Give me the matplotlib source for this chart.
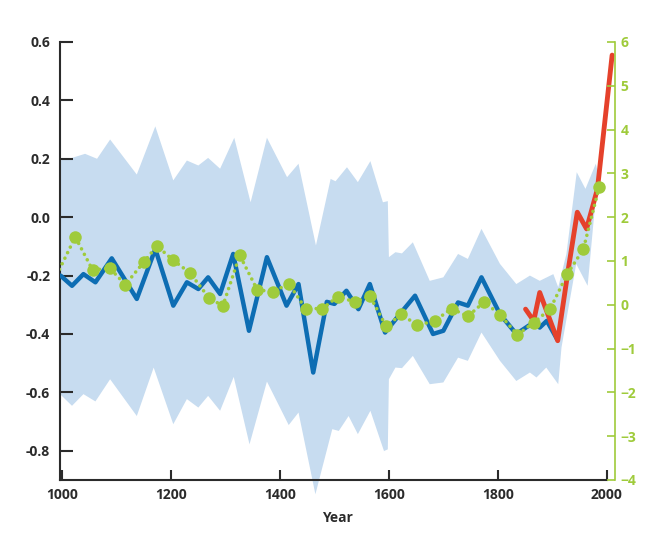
import numpy as np
import matplotlib
matplotlib.use('Agg')
import matplotlib.pyplot as plt

# reconstruction (left axis)
blue_years = [997, 1018, 1039, 1061, 1091, 1137, 1171, 1204, 1229, 1250, 1268, 1290,
              1314, 1343, 1376, 1412, 1434, 1461, 1486, 1500, 1522, 1544, 1565, 1593,
              1620, 1648, 1681, 1700, 1727, 1745, 1770, 1804, 1834, 1866, 1877, 1890, 1909]
blue_vals = [-0.20, -0.235, -0.195, -0.223, -0.141, -0.28, -0.109, -0.303, -0.223, -0.246,
             -0.206, -0.263, -0.126, -0.389, -0.137, -0.303, -0.229, -0.532, -0.29, -0.297,
             -0.252, -0.315, -0.229, -0.395, -0.332, -0.269, -0.40, -0.389, -0.292, -0.303,
             -0.206, -0.332, -0.40, -0.36, -0.378, -0.355, -0.418]

# instrumental (left axis)
red_years = [1851, 1866, 1877, 1910, 1930, 1946, 1963, 1983, 2010]
red_vals = [-0.315, -0.355, -0.258, -0.423, -0.172, 0.017, -0.04, 0.097, 0.555]

# uncertainty band (left axis)
band_up_years = [996, 1018, 1042, 1064, 1088, 1137, 1171, 1204, 1229, 1250, 1268, 1290,
                 1316, 1346, 1376, 1413, 1434, 1466, 1493, 1502, 1523, 1543, 1566, 1589,
                 1598, 1600, 1612, 1624, 1644, 1675, 1700, 1727, 1745, 1770, 1804, 1834,
                 1859, 1877, 1902, 1911, 1926, 1945, 1961, 1980, 1984]
band_up = [0.194, 0.203, 0.217, 0.20, 0.266, 0.146, 0.311, 0.126, 0.194, 0.177, 0.203, 0.166,
           0.272, 0.051, 0.272, 0.137, 0.183, -0.097, 0.131, 0.123, 0.171, 0.12, 0.192, 0.051,
           0.055, -0.137, -0.12, -0.124, -0.086, -0.218, -0.206, -0.126, -0.143, -0.04, -0.16,
           -0.229, -0.20, -0.218, -0.195, -0.24, -0.126, 0.154, 0.097, 0.183, 0.15]
band_lo_years = [996, 1018, 1039, 1061, 1088, 1137, 1168, 1204, 1229, 1250, 1268, 1290,
                 1315, 1344, 1376, 1416, 1434, 1465, 1496, 1508, 1526, 1543, 1566, 1591,
                 1598, 1600, 1612, 1624, 1644, 1675, 1700, 1727, 1745, 1770, 1804, 1834,
                 1859, 1871, 1889, 1911, 1917, 1944, 1965, 1984]
band_lo = [-0.606, -0.646, -0.606, -0.631, -0.555, -0.681, -0.515, -0.709, -0.623, -0.652,
           -0.612, -0.663, -0.547, -0.778, -0.563, -0.712, -0.669, -0.949, -0.726, -0.732,
           -0.681, -0.743, -0.663, -0.801, -0.795, -0.555, -0.515, -0.517, -0.475, -0.572,
           -0.566, -0.481, -0.492, -0.395, -0.492, -0.561, -0.532, -0.549, -0.515, -0.572,
           -0.446, -0.16, -0.235, 0.15]

# dotted series (right axis)
green_years = [980, 1024, 1056, 1087, 1116, 1150, 1174, 1204, 1235, 1269, 1295, 1326, 1358,
               1387, 1416, 1447, 1478, 1506, 1538, 1565, 1595, 1623, 1652, 1684, 1715, 1745,
               1775, 1804, 1836, 1866, 1896, 1928, 1957, 1986]
green_vals = [0.43, 1.548, 0.79, 0.84, 0.46, 0.977, 1.342, 1.016, 0.726, 0.164, -0.027, 1.13,
              0.347, 0.292, 0.484, -0.087, -0.087, 0.185, 0.064, 0.2, -0.491, -0.217, -0.468,
              -0.37, -0.087, -0.263, 0.064, -0.224, -0.685, -0.405, -0.1, 0.712, 1.265, 2.68]

left_ticks = [-0.8, -0.6, -0.4, -0.2, 0.0, 0.2, 0.4, 0.6]
right_ticks = [-4, -3, -2, -1, 0, 1, 2, 3, 4, 5, 6]
x_ticks = [1000, 1200, 1400, 1600, 1800, 2000]

dark = '#2b2b2b'
green = '#9fcb3b'
plt.rcParams['font.family'] = ['Open Sans', 'DejaVu Sans']

fig = plt.figure(figsize=(6.64, 5.41), dpi=100)
ax = fig.add_axes([0.0904, 0.1128, 0.8356, 0.8096])

poly_x = np.concatenate([band_up_years, band_lo_years[::-1]])
poly_y = np.concatenate([band_up, band_lo[::-1]])
ax.fill(poly_x, poly_y, color='#c7dcf0', lw=0, zorder=1, clip_on=False)
ax.plot(blue_years, blue_vals, color='#0d6db3', lw=3.2, zorder=3,
        solid_joinstyle='round', solid_capstyle='round')
ax.plot(red_years, red_vals, color='#e5412b', lw=3.5, zorder=4,
        solid_joinstyle='round', solid_capstyle='round')

ax.set_xlim(996, 2015)
ax.set_ylim(-0.9, 0.6)
ax.set_xticks(x_ticks)
ax.set_yticks(left_ticks)
ax.set_yticklabels(['%.1f' % v for v in left_ticks])
ax.tick_params(axis='y', direction='in', length=9, width=1.5, color=dark, pad=7,
               labelsize=10, labelcolor=dark)
ax.tick_params(axis='x', direction='in', length=7, width=1.5, color=dark, pad=6,
               labelsize=10, labelcolor=dark)
for lab in ax.get_xticklabels() + ax.get_yticklabels():
    lab.set_fontweight('bold')
ax.set_xlabel('Year', fontsize=10, fontweight='bold', color=dark, labelpad=6)
ax.spines['top'].set_visible(False)
ax.spines['right'].set_visible(False)
ax.spines['left'].set_color(dark)
ax.spines['left'].set_linewidth(1.5)
ax.spines['bottom'].set_color(dark)
ax.spines['bottom'].set_linewidth(1.5)
ax.spines['bottom'].set_bounds(996, 2000)

ax2 = ax.twinx()
ax2.plot(green_years, green_vals, color=green, lw=2.6, ls=(0, (0.01, 1.7)),
         dash_capstyle='round', zorder=5)
ax2.plot(green_years, green_vals, color=green, ls='none', marker='o', ms=9,
         markeredgewidth=0, zorder=6)
ax2.set_ylim(-4, 6)
ax2.set_yticks(right_ticks)
ax2.tick_params(axis='y', direction='in', length=6, width=1.2, color=green, pad=4,
                labelsize=10, labelcolor=green)
for lab in ax2.get_yticklabels():
    lab.set_fontweight('bold')
for s in ['top', 'left', 'bottom']:
    ax2.spines[s].set_visible(False)
ax2.spines['right'].set_color(green)
ax2.spines['right'].set_linewidth(1.2)

fig.savefig('out.png', dpi=100)
